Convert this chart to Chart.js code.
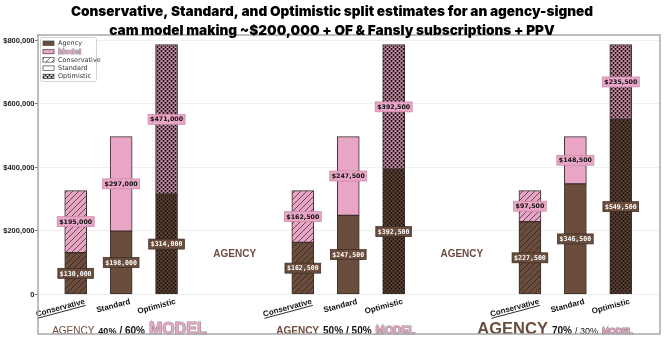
<!DOCTYPE html>
<html>
<head>
<meta charset="utf-8">
<script src="https://cdn.jsdelivr.net/npm/chart.js@4.4.1/dist/chart.umd.min.js"></script>
<style>
  html, body { margin: 0; padding: 0; background: #fff; }
  #wrap { width: 664px; height: 350px; position: relative; }
</style>
</head>
<body>
<div id="wrap"><canvas id="grafico"></canvas></div>
<script>
const tituloLinhas = [
  'Conservative, Standard, and Optimistic split estimates for an agency-signed',
  'cam model making ~$200,000 + OF & Fansly subscriptions + PPV'
];
const scenarios = ['Conservative', 'Standard', 'Optimistic'];
const agencyPct = [40, 50, 70];
const modelPct = [60, 50, 30];
const agency40 = [130000, 198000, 314000];
const model60 = [195000, 297000, 471000];
const agency50 = [162500, 247500, 392500];
const model50 = [162500, 247500, 392500];
const agency70 = [227500, 346500, 549500];
const model30 = [97500, 148500, 235500];
const yTicks = [0, 200000, 400000, 600000, 800000];

const BROWN = '#6b4d3d';
const PINK = '#e8a5c5';
const EDGE = '#3a2f2b';

// montar as 13 posicoes (3 barras + 2 vazias entre grupos)
const grupos = [[agency40, model60], [agency50, model50], [agency70, model30]];
const labels = [], agencyData = [], modelData = [];
grupos.forEach((g, gi) => {
  scenarios.forEach((s, si) => {
    labels.push(s);
    agencyData.push(g[0][si]);
    modelData.push(g[1][si]);
  });
  if (gi < grupos.length - 1) {
    labels.push('', '');
    agencyData.push(null, null);
    modelData.push(null, null);
  }
});

function makeFill(color, kind) {
  if (kind === 'solid') return color;
  const c = document.createElement('canvas');
  const g = c.getContext('2d');
  if (kind === 'hatch') {
    c.width = 6; c.height = 6;
    g.fillStyle = color; g.fillRect(0, 0, 6, 6);
    g.strokeStyle = 'rgba(40,28,22,0.85)';
    g.lineWidth = 0.8;
    g.beginPath();
    g.moveTo(0, 6); g.lineTo(6, 0);
    g.moveTo(-1, 1); g.lineTo(1, -1);
    g.moveTo(5, 7); g.lineTo(7, 5);
    g.stroke();
  } else {
    c.width = 4; c.height = 4;
    g.fillStyle = '#1d1715'; g.fillRect(0, 0, 4, 4);
    g.fillStyle = color;
    g.fillRect(0.3, 0.3, 2.4, 1.6);
    g.fillRect(2.3, 2.3, 2.4, 1.6);
    g.fillRect(-1.7, 2.3, 2.4, 1.6);
  }
  return g.createPattern(c, 'repeat');
}
const kinds = ['hatch', 'solid', 'dots'];
const fills = {
  agency: kinds.map(k => makeFill(BROWN, k)),
  model: kinds.map(k => makeFill(PINK, k)),
  white: kinds.map(k => makeFill('#ffffff', k))
};

// textos do rodape de cada grupo
const footerStyle = [
  { start: -69, agency: '10px', pctA: 'bold 9px', pctB: 'bold 10px', model: 'bold 16px' },
  { start: -72, agency: 'bold 10px', pctA: 'bold 10px', pctB: 'bold 10px', model: 'bold 11px' },
  { start: -98, agency: 'bold 16.5px', pctA: 'bold 10px', pctB: '9px', model: 'bold 8.5px' }
];
const FF = '"Liberation Sans", Arial, sans-serif';

function outlined(ctx, txt, x, y, fill, stroke) {
  ctx.lineWidth = 1.1;
  ctx.strokeStyle = stroke;
  ctx.strokeText(txt, x, y);
  ctx.fillStyle = fill;
  ctx.fillText(txt, x, y);
}

const decor = {
  id: 'decor',
  beforeDatasetsDraw(chart) {
    const { ctx, chartArea, scales: { y } } = chart;
    const L = chartArea.left - 15, R = chartArea.right + 16.5;
    ctx.save();
    ctx.lineWidth = 1;
    ctx.font = 'bold 7.5px ' + FF;
    ctx.textAlign = 'right';
    ctx.textBaseline = 'middle';
    yTicks.forEach(v => {
      const py = Math.round(y.getPixelForValue(v)) + 0.5;
      ctx.strokeStyle = '#efefef';
      ctx.beginPath(); ctx.moveTo(L, py); ctx.lineTo(R, py); ctx.stroke();
      ctx.strokeStyle = '#777';
      ctx.beginPath(); ctx.moveTo(L - 3, py); ctx.lineTo(L, py); ctx.stroke();
      ctx.fillStyle = '#222';
      ctx.fillText(v === 0 ? '0' : '$' + v.toLocaleString('en-US'), L - 3.5, py);
    });
    ctx.restore();
  },
  afterDatasetsDraw(chart) {
    const { ctx, chartArea, scales: { x, y } } = chart;
    const L = chartArea.left - 15, R = chartArea.right + 16.5;
    ctx.save();

    // valores nas barras
    chart.data.datasets.forEach((ds, d) => {
      chart.getDatasetMeta(d).data.forEach((bar, i) => {
        const v = ds.data[i];
        if (v == null) return;
        const cy = (bar.y + bar.base) / 2;
        const txt = '$' + v.toLocaleString('en-US');
        if (d === 0) ctx.font = 'bold 6.6px "DejaVu Sans Mono", monospace';
        else ctx.font = 'bold 6.3px "DejaVu Sans", sans-serif';
        const w = ctx.measureText(txt).width + 4;
        ctx.fillStyle = d === 0 ? BROWN : PINK;
        ctx.fillRect(bar.x - w / 2, cy - 5, w, 10);
        ctx.lineWidth = 0.7;
        ctx.strokeStyle = d === 0 ? '#3a2a22' : '#c98aa8';
        ctx.strokeRect(bar.x - w / 2, cy - 5, w, 10);
        ctx.fillStyle = d === 0 ? '#fff' : '#111';
        ctx.textAlign = 'center';
        ctx.textBaseline = 'middle';
        ctx.fillText(txt, bar.x, cy + 0.5);
      });
    });

    // rotulos do eixo x (girados)
    ctx.font = 'bold 8px ' + FF;
    ctx.fillStyle = '#111';
    labels.forEach((lab, i) => {
      if (!lab) return;
      const px = x.getPixelForValue(i);
      ctx.save();
      ctx.translate(px + 9, 301.5);
      ctx.rotate(-15 * Math.PI / 180);
      ctx.textAlign = 'right';
      ctx.textBaseline = 'middle';
      ctx.fillText(lab, 0, 0);
      if (lab === 'Conservative') {
        const w = ctx.measureText(lab).width;
        ctx.strokeStyle = '#111';
        ctx.lineWidth = 0.8;
        ctx.beginPath(); ctx.moveTo(-w, 4); ctx.lineTo(0, 4); ctx.stroke();
      }
      ctx.restore();
    });

    // "AGENCY" entre os grupos
    ctx.font = 'bold 10px ' + FF;
    ctx.fillStyle = BROWN;
    ctx.textAlign = 'center';
    ctx.textBaseline = 'middle';
    [3.5, 8.5].forEach(pos => {
      const px = (x.getPixelForValue(Math.floor(pos)) + x.getPixelForValue(Math.ceil(pos))) / 2;
      ctx.fillText('AGENCY', px, y.getPixelForValue(125000));
    });

    // rodape de cada grupo
    ctx.textAlign = 'left';
    ctx.textBaseline = 'alphabetic';
    footerStyle.forEach((st, gi) => {
      let cx = x.getPixelForValue(gi * 5 + 1) + st.start;
      const by = 333.5;
      ctx.font = st.agency + ' ' + FF;
      ctx.fillStyle = BROWN;
      ctx.fillText('AGENCY', cx, by);
      cx += ctx.measureText('AGENCY').width + 4;
      ctx.font = st.pctA + ' ' + FF;
      ctx.fillStyle = '#111';
      const a = agencyPct[gi] + '%';
      ctx.fillText(a, cx, by);
      cx += ctx.measureText(a).width + 3;
      ctx.font = st.pctB + ' ' + FF;
      const b = '/ ' + modelPct[gi] + '%';
      ctx.fillText(b, cx, by);
      cx += ctx.measureText(b).width + 4;
      ctx.font = st.model + ' ' + FF;
      outlined(ctx, 'MODEL', cx, by, PINK, '#8a8a8a');
    });

    // legenda
    const lx = 40, ly = 37;
    ctx.fillStyle = 'rgba(255,255,255,0.92)';
    ctx.strokeStyle = '#d4d4d4';
    ctx.lineWidth = 1;
    ctx.beginPath();
    ctx.roundRect(lx + 0.5, ly + 0.5, 56, 44, 2);
    ctx.fill(); ctx.stroke();
    const itens = [
      { t: 'Agency', f: BROWN },
      { t: 'Model', f: PINK, bold: true },
      { t: 'Conservative', f: fills.white[0] },
      { t: 'Standard', f: fills.white[1] },
      { t: 'Optimistic', f: fills.white[2] }
    ];
    itens.forEach((it, k) => {
      const yy = ly + 6 + k * 8.3;
      ctx.fillStyle = it.f;
      ctx.fillRect(lx + 3, yy - 2, 11, 4.5);
      ctx.strokeStyle = '#444';
      ctx.lineWidth = 0.7;
      ctx.strokeRect(lx + 3, yy - 2, 11, 4.5);
      ctx.textBaseline = 'middle';
      ctx.textAlign = 'left';
      if (it.bold) {
        ctx.font = 'bold 8px ' + FF;
        outlined(ctx, it.t, lx + 18, yy + 0.5, PINK, '#999');
      } else {
        ctx.font = '6.5px "DejaVu Sans", sans-serif';
        ctx.fillStyle = '#333';
        ctx.fillText(it.t, lx + 18, yy + 0.5);
      }
    });

    // moldura do grafico
    ctx.strokeStyle = '#a9a9a9';
    ctx.lineWidth = 1.5;
    ctx.strokeRect(L, chartArea.top, R - L, chartArea.bottom - chartArea.top);

    // titulo
    ctx.font = '900 13.6px Inter, "Liberation Sans", sans-serif';
    ctx.fillStyle = '#000';
    ctx.textAlign = 'center';
    ctx.textBaseline = 'middle';
    ctx.fillText(tituloLinhas[0], 332, 12);
    ctx.fillText(tituloLinhas[1], 332, 31);
    ctx.restore();
  }
};

const ctx = document.getElementById('grafico');
new Chart(ctx, {
  type: 'bar',
  data: {
    labels: labels,
    datasets: [
      {
        label: 'Agency',
        data: agencyData,
        backgroundColor: c => fills.agency[c.dataIndex % 5] || BROWN,
        borderColor: EDGE,
        borderWidth: 1,
        borderSkipped: false,
        barThickness: 22
      },
      {
        label: 'Model',
        data: modelData,
        backgroundColor: c => fills.model[c.dataIndex % 5] || PINK,
        borderColor: EDGE,
        borderWidth: 1,
        borderSkipped: false,
        barThickness: 22
      }
    ]
  },
  options: {
    responsive: true,
    maintainAspectRatio: false,
    animation: false,
    devicePixelRatio: 1,
    layout: { padding: { left: 38, right: 20.5, top: 35, bottom: 16 } },
    plugins: {
      legend: { display: false },
      title: { display: false },
      tooltip: { enabled: false }
    },
    scales: {
      x: { stacked: true, display: false },
      y: {
        stacked: true,
        min: -126000,
        max: 815000,
        afterFit: s => { s.width = 15; },
        grid: { display: false },
        border: { display: false },
        ticks: { display: false }
      }
    }
  },
  plugins: [decor]
});
</script>
</body>
</html>
